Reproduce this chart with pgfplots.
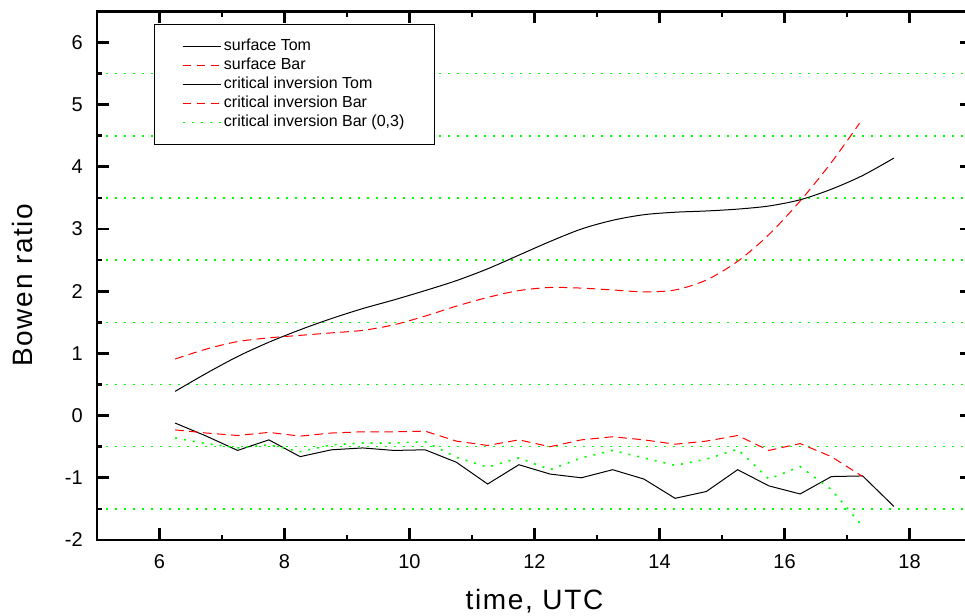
\documentclass[border=0pt]{standalone}
\usepackage{fontspec}
\setmainfont{Liberation Sans}
\newfontfamily\spacedfont[LetterSpace=6]{Liberation Sans}
\usepackage{pgfplots}
\pgfplotsset{compat=1.18}
\definecolor{pgreen}{RGB}{0,255,0}
\definecolor{pred}{RGB}{255,0,0}
\begin{document}
\begin{tikzpicture}
\begin{axis}[
  name=ax,
  scale only axis,
  width=656.25pt, height=396.5pt,
  xmin=5, xmax=19, ymin=-2, ymax=6.5,
  separate axis lines,
  axis line style={line width=2pt, line cap=rect},
  tick style={line width=2pt, black},
  xtick={6,8,...,18}, minor x tick num=1,
  ytick={-2,-1,...,6}, minor y tick num=1,
  yminorgrids=true,
  minor grid style={pgreen, line width=1.2pt, dash pattern=on 1.5pt off 5.25pt},
  tick align=inside,
  major tick length=9pt, minor tick length=4pt,
  /pgf/number format/assume math mode=true,
  tick label style={font=\fontsize{15}{18}\selectfont},
  xticklabel style={anchor=base, yshift=-21.75pt},
  yticklabel style={anchor=east, inner sep=0pt, xshift=-10.5pt},
  xlabel={\spacedfont time, UTC},
  ylabel={\spacedfont Bowen ratio},
  label style={font=\fontsize{21}{25}\selectfont},
  xlabel style={at={(axis description cs:0.5,-0.1324)}, anchor=base},
  ylabel style={at={(axis description cs:-0.0846,0.482)}, anchor=center},
  legend image code/.code={\draw[#1] (0pt,0pt) -- (28.5pt,0pt);},
  legend cell align=left,
  legend style={at={(axis description cs:0.0651,0.976)}, anchor=north west,
    draw=black, line width=0.75pt, fill=white,
    font=\fontsize{12}{14}\selectfont,
    inner xsep=20.5pt, inner ysep=9.25pt, row sep=0pt,
    nodes={text height=8pt, text depth=2.5pt, inner sep=1.9pt}},
]
% surface Tom
\addplot[black, line width=0.75pt, smooth] coordinates {
(6.25,0.39) (6.75,0.68) (7.25,0.95) (7.75,1.18) (8.25,1.38) (8.75,1.56)
(9.25,1.72) (9.75,1.86) (10.25,2.01) (10.75,2.17) (11.25,2.36) (11.75,2.58)
(12.25,2.80) (12.75,3.00) (13.25,3.14) (13.75,3.23) (14.25,3.27) (14.75,3.29)
(15.25,3.32) (15.75,3.37) (16.25,3.47) (16.75,3.64) (17.25,3.86) (17.75,4.14)};
\addlegendentry{surface Tom}
% surface Bar
\addplot[pred, line width=0.75pt, smooth, dash pattern=on 6.5pt off 4pt] coordinates {
(6.25,0.91) (6.75,1.07) (7.25,1.19) (7.75,1.25) (8.25,1.29) (8.75,1.33)
(9.25,1.37) (9.75,1.46) (10.25,1.60) (10.75,1.76) (11.25,1.90) (11.75,2.01)
(12.25,2.06) (12.75,2.05) (13.25,2.02) (13.75,1.99) (14.25,2.02) (14.75,2.18)
(15.25,2.48) (15.75,2.91) (16.25,3.45) (16.75,4.07) (17.2,4.70)};
\addlegendentry{surface Bar}
% critical inversion Tom
\addplot[black, line width=0.75pt] coordinates {
(6.25,-0.12) (6.75,-0.33) (7.25,-0.56) (7.75,-0.39) (8.25,-0.66) (8.75,-0.55)
(9.25,-0.52) (9.75,-0.56) (10.25,-0.55) (10.75,-0.75) (11.25,-1.10) (11.75,-0.79)
(12.25,-0.94) (12.75,-1.00) (13.25,-0.87) (13.75,-1.02) (14.25,-1.33) (14.75,-1.22)
(15.25,-0.87) (15.75,-1.13) (16.25,-1.26) (16.75,-0.98) (17.25,-0.97) (17.75,-1.46)};
\addlegendentry{critical inversion Tom}
% critical inversion Bar
\addplot[pred, line width=0.75pt, dash pattern=on 6.5pt off 4pt] coordinates {
(6.25,-0.23) (6.75,-0.28) (7.25,-0.32) (7.75,-0.27) (8.25,-0.33) (8.75,-0.28)
(9.25,-0.26) (9.75,-0.26) (10.25,-0.25) (10.75,-0.41) (11.25,-0.48) (11.75,-0.39)
(12.25,-0.50) (12.75,-0.39) (13.25,-0.34) (13.75,-0.39) (14.25,-0.46) (14.75,-0.41)
(15.25,-0.32) (15.75,-0.56) (16.25,-0.45) (16.75,-0.66) (17.25,-0.98)};
\addlegendentry{critical inversion Bar}
% critical inversion Bar (0,3)
\addplot[pgreen, line width=1.2pt, dash pattern=on 1.5pt off 5.25pt] coordinates {
(6.25,-0.36) (6.75,-0.45) (7.25,-0.52) (7.75,-0.47) (8.25,-0.58) (8.75,-0.47)
(9.25,-0.44) (9.75,-0.44) (10.25,-0.42) (10.75,-0.67) (11.25,-0.83) (11.75,-0.68)
(12.25,-0.87) (12.75,-0.68) (13.25,-0.56) (13.75,-0.68) (14.25,-0.80) (14.75,-0.70)
(15.25,-0.54) (15.75,-1.02) (16.25,-0.82) (16.75,-1.19) (17.25,-1.78)};
\addlegendentry{critical inversion Bar (0,3)}
\end{axis}
\pgfresetboundingbox
\path[use as bounding box] (ax.south west) ++(-72.75pt,-57pt) rectangle ++(723.75pt,462pt);
\end{tikzpicture}
\end{document}
